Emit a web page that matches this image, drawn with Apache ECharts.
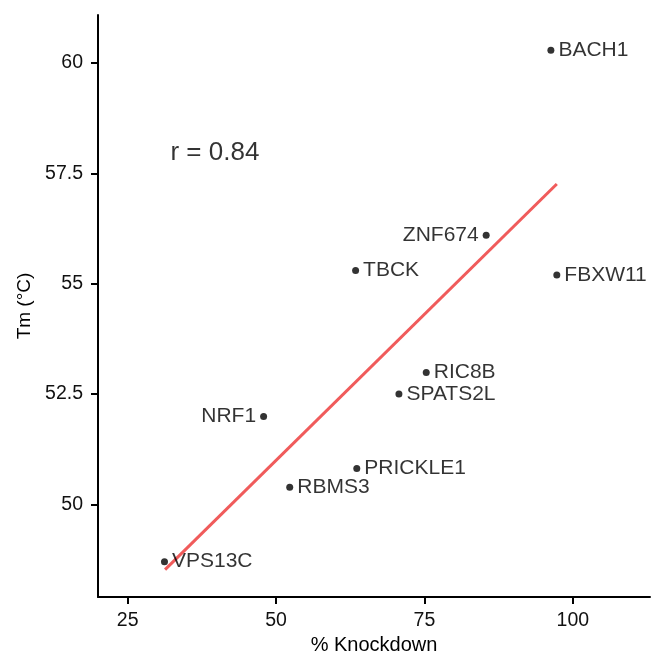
<!DOCTYPE html>
<html>
<head>
<meta charset="utf-8">
<script src="https://cdn.jsdelivr.net/npm/echarts@6/dist/echarts.min.js"></script>
<style>
html,body{margin:0;padding:0;background:#fff;}
#main{width:654px;height:655px;}
</style>
</head>
<body>
<div id="main"></div>
<script>
var genes = ['BACH1','ZNF674','TBCK','FBXW11','NRF1','RBMS3','VPS13C','RIC8B','SPATS2L','PRICKLE1'];
var knockdown = [96.3, 85.4, 63.4, 97.3, 47.9, 52.3, 31.2, 75.3, 70.7, 63.6];
var tm = [60.29, 56.10, 55.30, 55.20, 51.99, 50.39, 48.70, 52.99, 52.50, 50.81];
var labelSide = ['right','left','right','right','left','right','right','right','right','right'];
var fitLine = [[31.3, 48.52], [97.3, 57.26]];
var xTicks = [25, 50, 75, 100];
var yTicks = [50, 52.5, 55, 57.5, 60];
var annotation = {x: 39.7, y: 57.97, text: 'r = 0.84'};

var FONT = '"Liberation Sans", Arial, sans-serif';
var chart = echarts.init(document.getElementById('main'));

var points = genes.map(function (g, i) {
  return {
    value: [knockdown[i], tm[i]],
    name: g,
    label: {position: labelSide[i]}
  };
});

chart.setOption({
  animation: false,
  backgroundColor: '#fff',
  grid: {left: 98, right: 4, top: 15, bottom: 58, outerBoundsMode: 'none', containLabel: false},
  xAxis: {
    type: 'value', min: 20, max: 113,
    name: '% Knockdown', nameLocation: 'middle', nameGap: 36,
    nameTextStyle: {fontFamily: FONT, fontSize: 20, color: '#000'},
    splitLine: {show: false},
    axisLine: {onZero: false, lineStyle: {color: '#000', width: 2}},
    axisTick: {show: true, length: 7, lineStyle: {color: '#000', width: 2}, customValues: xTicks},
    axisLabel: {fontFamily: FONT, fontSize: 19.5, color: '#111', margin: 14, customValues: xTicks}
  },
  yAxis: {
    type: 'value', min: 47.9, max: 61.09,
    name: 'Tm (°C)', nameLocation: 'middle', nameGap: 64, nameRotate: 90,
    nameTextStyle: {fontFamily: FONT, fontSize: 19, color: '#000'},
    splitLine: {show: false},
    axisLine: {onZero: false, lineStyle: {color: '#000', width: 2}},
    axisTick: {show: true, length: 7, lineStyle: {color: '#000', width: 2}, customValues: yTicks},
    axisLabel: {fontFamily: FONT, fontSize: 19.5, color: '#111', margin: 15, customValues: yTicks}
  },
  series: [
    {
      type: 'line',
      data: fitLine,
      symbol: 'none',
      lineStyle: {color: '#F05B5B', width: 3},
      z: 1
    },
    {
      type: 'scatter',
      data: points,
      symbolSize: 7,
      itemStyle: {color: '#000'},
      label: {
        show: true,
        formatter: '{b}',
        distance: 4,
        fontFamily: FONT,
        fontSize: 21,
        color: '#000'
      },
      z: 3
    },
    {
      type: 'scatter',
      data: [[annotation.x, annotation.y]],
      symbolSize: 0,
      label: {
        show: true,
        position: 'inside',
        formatter: annotation.text,
        fontFamily: FONT,
        fontSize: 26,
        color: '#000'
      },
      silent: true
    }
  ]
});
</script>
</body>
</html>
